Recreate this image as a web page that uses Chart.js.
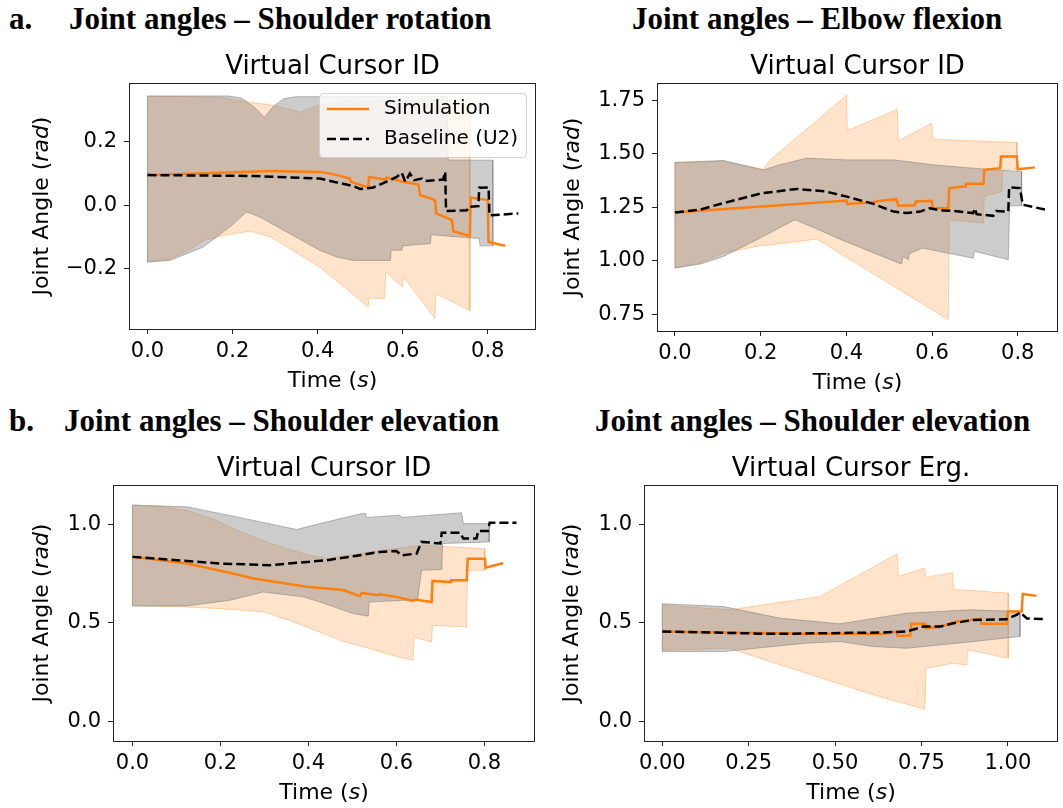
<!DOCTYPE html>
<html>
<head>
<meta charset="utf-8">
<script src="https://cdn.jsdelivr.net/npm/chart.js@4.4.1/dist/chart.umd.min.js"></script>
<style>
  body { margin: 0; background: #fff; }
  #page { position: relative; width: 1063px; height: 808px; overflow: hidden; }
  canvas { position: absolute; }
  .hd { position: absolute; font-family: "Liberation Serif", serif; font-weight: bold;
        font-size: 31px; line-height: 1; white-space: nowrap; color: #000; }
</style>
</head>
<body>
<div id="page">
  <div class="hd" style="left:9px;top:3px">a.</div>
  <div class="hd" style="left:69px;top:3px">Joint angles – Shoulder rotation</div>
  <div class="hd" style="left:632px;top:3px">Joint angles – Elbow flexion</div>
  <div class="hd" style="left:9px;top:405px">b.</div>
  <div class="hd" style="left:64px;top:405px">Joint angles – Shoulder elevation</div>
  <div class="hd" style="left:595px;top:405px">Joint angles – Shoulder elevation</div>
  <canvas id="c1" width="545" height="360" style="left:0;top:40px"></canvas>
  <canvas id="c2" width="518" height="360" style="left:545px;top:40px"></canvas>
  <canvas id="c3" width="545" height="368" style="left:0;top:440px"></canvas>
  <canvas id="c4" width="518" height="368" style="left:545px;top:440px"></canvas>
</div>
<script>
// Shoulder rotation (Virtual Cursor ID) - [time, angle]
const rotSimMean = [[0,0.095],[0.17,0.102],[0.288,0.108],[0.405,0.105],[0.437,0.098],[0.476,0.084],[0.478,0.074],[0.519,0.056],[0.521,0.089],[0.558,0.081],[0.562,0.087],[0.602,0.074],[0.637,0.065],[0.641,0.032],[0.676,0.016],[0.679,-0.026],[0.716,-0.047],[0.719,-0.082],[0.758,-0.097],[0.76,0.024],[0.8,0.016],[0.802,-0.116],[0.841,-0.128]];
const rotSimUpper = [[0,0.344],[0.17,0.34],[0.233,0.326],[0.304,0.313],[0.358,0.293],[0.405,0.316],[0.484,0.326],[0.758,0.332]];
const rotSimLower = [[0,-0.179],[0.053,-0.17],[0.1,-0.14],[0.131,-0.112],[0.18,-0.095],[0.241,-0.082],[0.29,-0.1],[0.335,-0.137],[0.405,-0.195],[0.46,-0.255],[0.519,-0.321],[0.521,-0.292],[0.558,-0.295],[0.56,-0.211],[0.6,-0.258],[0.602,-0.226],[0.676,-0.358],[0.678,-0.279],[0.758,-0.332]];
const rotBaseMean = [[0,0.095],[0.249,0.092],[0.405,0.084],[0.484,0.06],[0.5,0.051],[0.531,0.056],[0.562,0.074],[0.586,0.089],[0.598,0.102],[0.606,0.074],[0.617,0.1],[0.627,0.079],[0.645,0.084],[0.653,0.076],[0.695,0.081],[0.7,0.105],[0.702,-0.018],[0.751,-0.016],[0.755,-0.005],[0.778,-0.003],[0.78,0.055],[0.802,0.056],[0.804,-0.032],[0.872,-0.026]];
const rotBaseUpper = [[0,0.344],[0.19,0.344],[0.22,0.338],[0.25,0.31],[0.275,0.277],[0.295,0.31],[0.32,0.335],[0.35,0.342],[0.705,0.342],[0.707,0.142],[0.812,0.142]];
const rotBaseLower = [[0,-0.179],[0.053,-0.174],[0.131,-0.132],[0.194,-0.068],[0.233,-0.021],[0.264,-0.037],[0.327,-0.084],[0.405,-0.142],[0.445,-0.163],[0.484,-0.174],[0.571,-0.174],[0.573,-0.142],[0.598,-0.142],[0.6,-0.128],[0.665,-0.121],[0.667,-0.093],[0.78,-0.105],[0.782,-0.128],[0.812,-0.128]];

// Elbow flexion (Virtual Cursor ID)
const elbSimMean = [[0,1.226],[0.401,1.282],[0.402,1.266],[0.463,1.274],[0.475,1.28],[0.517,1.288],[0.521,1.257],[0.56,1.26],[0.562,1.277],[0.599,1.28],[0.602,1.246],[0.638,1.246],[0.64,1.34],[0.677,1.348],[0.679,1.36],[0.72,1.36],[0.722,1.425],[0.759,1.433],[0.761,1.488],[0.798,1.488],[0.8,1.428],[0.84,1.437]];
const elbSimUpper = [[0,1.46],[0.113,1.466],[0.206,1.428],[0.222,1.472],[0.401,1.776],[0.402,1.609],[0.519,1.709],[0.521,1.562],[0.599,1.643],[0.602,1.569],[0.798,1.553]];
const elbSimLower = [[0,0.966],[0.06,0.99],[0.113,1.036],[0.191,1.067],[0.331,1.101],[0.638,0.724],[0.64,1.192],[0.72,1.176],[0.722,1.301],[0.763,1.324],[0.765,1.428],[0.798,1.428]];
const elbBaseMean = [[0,1.226],[0.06,1.24],[0.113,1.27],[0.2,1.315],[0.284,1.336],[0.35,1.325],[0.401,1.3],[0.463,1.266],[0.51,1.23],[0.54,1.223],[0.572,1.23],[0.595,1.246],[0.618,1.236],[0.657,1.232],[0.696,1.223],[0.7,1.245],[0.704,1.218],[0.743,1.21],[0.75,1.233],[0.778,1.23],[0.78,1.343],[0.805,1.34],[0.812,1.262],[0.868,1.238]];
const elbBaseUpper = [[0,1.46],[0.113,1.469],[0.206,1.425],[0.245,1.449],[0.307,1.48],[0.401,1.472],[0.51,1.472],[0.603,1.449],[0.696,1.433],[0.809,1.417]];
const elbBaseLower = [[0,0.966],[0.06,0.985],[0.113,1.02],[0.191,1.098],[0.24,1.15],[0.28,1.192],[0.33,1.15],[0.385,1.101],[0.461,1.039],[0.529,0.984],[0.532,1.02],[0.545,1.005],[0.547,1.033],[0.578,1.059],[0.696,1.012],[0.699,1.044],[0.778,1.005],[0.781,1.257],[0.809,1.257]];

// Shoulder elevation (Virtual Cursor ID)
const elvSimMean = [[0,0.835],[0.123,0.801],[0.2,0.765],[0.275,0.725],[0.396,0.683],[0.441,0.674],[0.479,0.667],[0.517,0.635],[0.521,0.652],[0.558,0.64],[0.562,0.645],[0.6,0.632],[0.638,0.611],[0.642,0.618],[0.68,0.606],[0.682,0.713],[0.722,0.708],[0.724,0.716],[0.76,0.716],[0.762,0.826],[0.801,0.826],[0.803,0.78],[0.843,0.804]];
const elvSimUpper = [[0,1.098],[0.06,1.092],[0.123,1.072],[0.18,1.03],[0.237,0.971],[0.3,0.915],[0.35,0.877],[0.4,0.845],[0.441,0.827],[0.54,0.86],[0.653,0.894],[0.801,0.877]];
const elvSimLower = [[0,0.586],[0.1,0.583],[0.199,0.572],[0.297,0.556],[0.36,0.51],[0.426,0.452],[0.48,0.405],[0.54,0.369],[0.59,0.335],[0.638,0.31],[0.64,0.428],[0.68,0.403],[0.682,0.488],[0.759,0.479],[0.762,0.767],[0.801,0.767]];
const elvBaseMean = [[0,0.835],[0.199,0.801],[0.312,0.793],[0.441,0.818],[0.502,0.838],[0.562,0.86],[0.6,0.865],[0.612,0.843],[0.646,0.852],[0.657,0.911],[0.7,0.903],[0.703,0.957],[0.745,0.957],[0.752,0.928],[0.782,0.928],[0.786,0.967],[0.808,0.967],[0.812,1.008],[0.873,1.008]];
const elvBaseUpper = [[0,1.098],[0.123,1.089],[0.237,1.038],[0.373,0.974],[0.426,1.004],[0.521,1.055],[0.53,1.055],[0.532,1.035],[0.608,1.047],[0.612,1.035],[0.748,1.059],[0.752,1.004],[0.811,1.004]];
const elvBaseLower = [[0,0.586],[0.123,0.586],[0.222,0.615],[0.297,0.657],[0.388,0.632],[0.426,0.606],[0.502,0.547],[0.536,0.534],[0.538,0.606],[0.648,0.618],[0.657,0.767],[0.703,0.771],[0.705,0.903],[0.811,0.911]];

// Shoulder elevation (Virtual Cursor Erg.)
const ergSimMean = [[0,0.456],[0.417,0.444],[0.64,0.444],[0.678,0.456],[0.68,0.434],[0.717,0.434],[0.72,0.495],[0.76,0.495],[0.763,0.473],[0.804,0.48],[0.852,0.507],[0.92,0.519],[0.923,0.495],[0.997,0.495],[1.0,0.558],[1.04,0.558],[1.043,0.647],[1.083,0.637]];
const ergSimUpper = [[0,0.59],[0.195,0.566],[0.456,0.634],[0.68,0.851],[0.683,0.736],[0.76,0.778],[0.763,0.732],[0.84,0.756],[0.843,0.671],[1.001,0.651]];
const ergSimLower = [[0,0.36],[0.195,0.371],[0.3,0.31],[0.417,0.244],[0.6,0.14],[0.76,0.061],[0.763,0.269],[0.842,0.295],[0.881,0.286],[0.884,0.363],[1.001,0.32]];
const ergBaseMean = [[0,0.456],[0.321,0.444],[0.64,0.451],[0.707,0.456],[0.755,0.481],[0.804,0.481],[0.842,0.498],[0.9,0.515],[0.995,0.518],[1.026,0.541],[1.036,0.553],[1.055,0.522],[1.112,0.519]];
const ergBaseUpper = [[0,0.597],[0.176,0.583],[0.34,0.524],[0.514,0.495],[0.707,0.549],[0.891,0.566],[1.035,0.558]];
const ergBaseLower = [[0,0.354],[0.176,0.354],[0.417,0.397],[0.514,0.405],[0.61,0.38],[0.707,0.371],[0.9,0.405],[1.035,0.431]];

const seriesNames = ["Simulation", "Baseline (U2)"];

const ORANGE = "#ff7f0e";
const FONT = '"DejaVu Sans"';
const DASH = [9, 4];

// turn [t, v] pairs into points
const pts = (arr) => arr.map((p) => ({ x: p[0], y: p[1] }));
// closed outline of a band: upper left->right, lower right->left
const band = (upper, lower) => pts(upper.concat(lower.slice().reverse(), [upper[0]]));

function fmt(v, dec) {
  const s = Math.abs(v).toFixed(dec);
  return v < -1e-9 ? "\u2212" + s : s;
}

function drawParts(ctx, parts, cx, cy, size) {
  let total = 0;
  parts.forEach((p) => {
    ctx.font = (p[1] ? "italic " : "") + size + "px " + FONT;
    total += ctx.measureText(p[0]).width;
  });
  let x = cx - total / 2;
  ctx.textAlign = "left";
  ctx.textBaseline = "middle";
  parts.forEach((p) => {
    ctx.font = (p[1] ? "italic " : "") + size + "px " + FONT;
    ctx.fillText(p[0], x, cy);
    x += ctx.measureText(p[0]).width;
  });
}

// frame, titles, axis labels and legend
function decor(cfg) {
  return {
    id: "decor",
    afterDraw(chart) {
      const ctx = chart.ctx;
      const a = chart.chartArea;
      const ox = cfg.canvas[0], oy = cfg.canvas[1];
      ctx.save();
      ctx.fillStyle = "#000";
      ctx.strokeStyle = "#222";
      ctx.lineWidth = 1;
      ctx.strokeRect(Math.round(a.left) + 0.5, Math.round(a.top) + 0.5,
        Math.round(a.right - a.left) - 1, Math.round(a.bottom - a.top));
      const cx = (a.left + a.right) / 2;
      ctx.font = "26px " + FONT;
      ctx.textAlign = "center";
      ctx.textBaseline = "alphabetic";
      ctx.fillText(cfg.title, cx, a.top - 9);
      drawParts(ctx, [["Time (", 0], ["s", 1], [")", 0]], cx, a.bottom + 52, 22);
      ctx.translate(cfg.yTitleX - ox, (a.top + a.bottom) / 2);
      ctx.rotate(-Math.PI / 2);
      drawParts(ctx, [["Joint Angle (", 0], ["rad", 1], [")", 0]], 0, 0, 22);
      ctx.restore();

      if (cfg.legend) {
        const lx = 319 - ox, ly = 93 - oy, lw = 207, lh = 64;
        ctx.save();
        ctx.beginPath();
        ctx.roundRect(lx + 0.5, ly + 0.5, lw, lh, 4);
        ctx.fillStyle = "rgba(255,255,255,0.8)";
        ctx.fill();
        ctx.strokeStyle = "#d0d0d0";
        ctx.stroke();
        const rows = [[ORANGE, [], 109], ["#000", DASH, 139]];
        rows.forEach((r, i) => {
          ctx.beginPath();
          ctx.strokeStyle = r[0];
          ctx.lineWidth = 2.5;
          ctx.setLineDash(r[1]);
          ctx.moveTo(327 - ox, r[2] - oy);
          ctx.lineTo(369 - ox, r[2] - oy);
          ctx.stroke();
          ctx.setLineDash([]);
          ctx.fillStyle = "#000";
          ctx.font = "20px " + FONT;
          ctx.textAlign = "left";
          ctx.textBaseline = "middle";
          ctx.fillText(seriesNames[i], 384 - ox, r[2] - oy);
        });
        ctx.restore();
      }
    },
  };
}

const panels = [
  { id: "c1", canvas: [0, 40, 545, 360], box: [129, 83, 536, 329],
    x: [-0.0435, 0.9135, 0.2, 1], y: [-0.39, 0.385, 0.2, 1],
    title: "Virtual Cursor ID", yTitleX: 42, legend: true,
    sim: [rotSimMean, rotSimUpper, rotSimLower], base: [rotBaseMean, rotBaseUpper, rotBaseLower] },
  { id: "c2", canvas: [545, 40, 518, 360], box: [657, 83, 1058, 331],
    x: [-0.042, 0.894, 0.2, 1], y: [0.671, 1.832, 0.25, 2],
    title: "Virtual Cursor ID", yTitleX: 573, legend: false,
    sim: [elbSimMean, elbSimUpper, elbSimLower], base: [elbBaseMean, elbBaseUpper, elbBaseLower] },
  { id: "c3", canvas: [0, 440, 545, 368], box: [113, 485, 535, 741],
    x: [-0.0443, 0.915, 0.2, 1], y: [-0.1, 1.2, 0.5, 1],
    title: "Virtual Cursor ID", yTitleX: 42, legend: false,
    sim: [elvSimMean, elvSimUpper, elvSimLower], base: [elvBaseMean, elvBaseUpper, elvBaseLower] },
  { id: "c4", canvas: [545, 440, 518, 368], box: [644, 485, 1058, 741],
    x: [-0.053, 1.145, 0.25, 2], y: [-0.1, 1.2, 0.5, 1],
    title: "Virtual Cursor Erg.", yTitleX: 572, legend: false,
    sim: [ergSimMean, ergSimUpper, ergSimLower], base: [ergBaseMean, ergBaseUpper, ergBaseLower] },
];

function makeChart(p) {
  const [cl, ct, cw, ch] = p.canvas;
  const [bl, bt, br, bb] = p.box;
  const tickFont = { family: "DejaVu Sans", size: 21 };
  const gridOpts = { display: true, drawOnChartArea: false, drawTicks: true, tickLength: 5, tickColor: "#222" };
  new Chart(document.getElementById(p.id), {
    type: "line",
    data: {
      datasets: [
        { data: pts(p.base[0]), borderColor: "#000", borderWidth: 2.5, borderDash: DASH, order: 0 },
        { data: pts(p.sim[0]), borderColor: ORANGE, borderWidth: 2.5, order: 1 },
        { data: band(p.base[1], p.base[2]), borderColor: "rgba(128,128,128,0.55)", borderWidth: 1,
          backgroundColor: "rgba(128,128,128,0.4)", fill: "shape", order: 2 },
        { data: band(p.sim[1], p.sim[2]), borderColor: "rgba(255,127,14,0.3)", borderWidth: 1,
          backgroundColor: "rgba(255,127,14,0.22)", fill: "shape", order: 3 },
      ],
    },
    options: {
      responsive: false,
      animation: false,
      devicePixelRatio: 1,
      layout: { padding: { left: 0, top: bt - ct, right: cl + cw - br, bottom: 0 } },
      elements: { point: { radius: 0 }, line: { tension: 0 } },
      plugins: { legend: { display: false }, tooltip: { enabled: false } },
      scales: {
        x: {
          type: "linear", min: p.x[0], max: p.x[1],
          grid: gridOpts, border: { display: false },
          ticks: { stepSize: p.x[2], includeBounds: false, font: tickFont, color: "#000",
            padding: 5, maxRotation: 0, autoSkip: false, callback: (v) => fmt(v, p.x[3]) },
          afterFit: (s) => { s.height = ct + ch - bb; },
        },
        y: {
          type: "linear", min: p.y[0], max: p.y[1],
          grid: gridOpts, border: { display: false },
          ticks: { stepSize: p.y[2], includeBounds: false, font: tickFont, color: "#000",
            padding: 7, autoSkip: false, callback: (v) => fmt(v, p.y[3]) },
          afterFit: (s) => { s.width = bl - cl; },
        },
      },
    },
    plugins: [decor(p)],
  });
}

panels.forEach(makeChart);
</script>
</body>
</html>
